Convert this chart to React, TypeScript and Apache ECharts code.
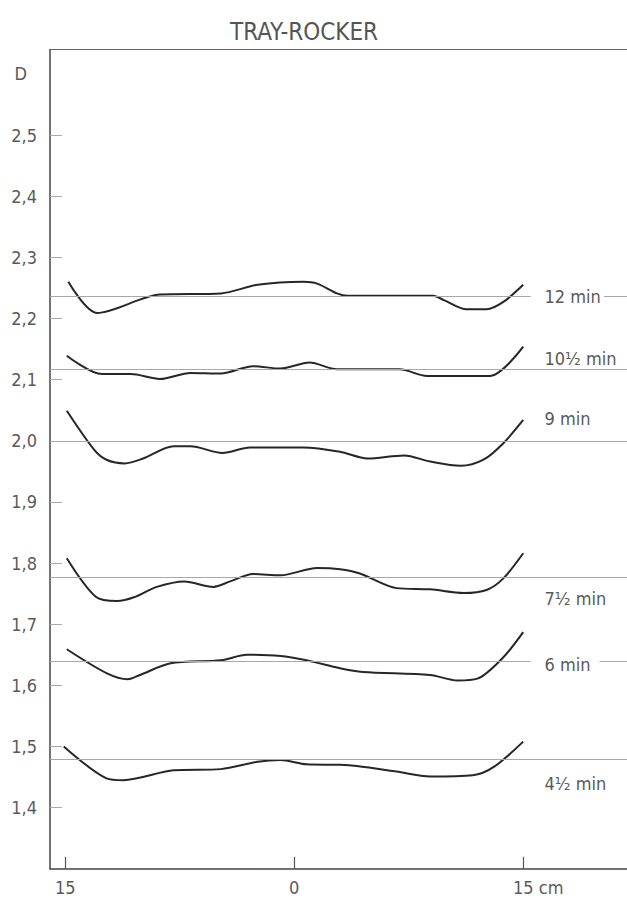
import React, { useEffect, useRef } from 'react';
import * as echarts from 'echarts';

const TITLE = 'TRAY-ROCKER';
const Y_AXIS_LABEL = 'D';
const X_UNIT = 'cm';
const xTickValues = [-15, 0, 15];
const yTickValues = [1.4, 1.5, 1.6, 1.7, 1.8, 1.9, 2.0, 2.1, 2.2, 2.3, 2.4, 2.5];
const yAxisLabelValue = 2.6;

const seriesNames = ['12 min', '10½ min', '9 min', '7½ min', '6 min', '4½ min'];
const refLevels = [2.236, 2.117, 2.0, 1.777, 1.639, 1.479];

const x12 = [-14.8, -12.9, -8.8, -4.8, -2.4, 0.6, 1.5, 2.8, 3.5, 9.1, 9.8, 11.3, 12.6, 13.7, 15.0];
const y12 = [2.26, 2.209, 2.239, 2.241, 2.255, 2.26, 2.257, 2.241, 2.237, 2.237, 2.23, 2.215, 2.215, 2.227, 2.255];

const x105 = [-14.9, -12.6, -10.7, -8.8, -6.8, -4.8, -2.7, -0.9, 1.0, 2.8, 6.9, 8.7, 12.8, 15.0];
const y105 = [2.139, 2.109, 2.109, 2.101, 2.111, 2.11, 2.122, 2.118, 2.128, 2.117, 2.117, 2.106, 2.106, 2.154];

const x9 = [-14.9, -13.1, -12.3, -11.1, -9.9, -7.9, -6.8, -4.7, -2.9, 0.6, 3.0, 4.8, 7.2, 8.9, 10.9, 12.4, 13.7, 15.0];
const y9 = [2.049, 1.985, 1.969, 1.963, 1.971, 1.991, 1.991, 1.98, 1.989, 1.989, 1.982, 1.971, 1.976, 1.966, 1.959, 1.969, 1.996, 2.034];

const x75 = [-14.9, -13.0, -11.6, -10.5, -9.0, -7.2, -5.3, -4.2, -2.7, -0.9, 1.5, 3.0, 4.3, 6.7, 8.9, 11.1, 12.6, 13.7, 15.0];
const y75 = [1.808, 1.745, 1.738, 1.744, 1.761, 1.77, 1.761, 1.77, 1.782, 1.78, 1.792, 1.79, 1.783, 1.759, 1.757, 1.751, 1.756, 1.775, 1.816];

const x6 = [-14.9, -12.3, -10.9, -10.1, -8.1, -4.8, -3.1, -0.9, 0.8, 3.0, 4.5, 8.9, 10.7, 12.0, 13.7, 15.0];
const y6 = [1.659, 1.62, 1.61, 1.617, 1.636, 1.641, 1.65, 1.648, 1.641, 1.628, 1.622, 1.617, 1.608, 1.611, 1.646, 1.687];

const x45 = [-15.1, -12.3, -11.2, -7.9, -4.8, -2.4, -0.9, 0.8, 3.0, 4.1, 6.7, 8.9, 11.7, 13.1, 15.0];
const y45 = [1.5, 1.448, 1.445, 1.461, 1.463, 1.475, 1.478, 1.471, 1.47, 1.468, 1.459, 1.451, 1.453, 1.467, 1.508];

const curvesX = [x12, x105, x9, x75, x6, x45];
const curvesY = [y12, y105, y9, y75, y6, y45];

// presentation settings (not data)
const X_MIN = -16;
const X_MAX = 21.8;
const Y_MIN = 1.3;
const Y_MAX = 2.64;
const LABEL_X = 16.2;
const GAP_FROM = 15.5;
const GAP_TO = 20.0;
const labelPlacement = [
  { dy: 0, gap: true },
  { dy: -11, gap: false },
  { dy: -22, gap: false },
  { dy: 21, gap: false },
  { dy: 3, gap: true },
  { dy: 24, gap: false },
];

const FONT = "'Liberation Sans Narrow', 'DejaVu Sans Condensed', 'Liberation Sans', sans-serif";
const TEXT_COLOR = '#5a5a5a';

export default function App() {
  const ref = useRef<HTMLDivElement>(null);

  useEffect(() => {
    if (!ref.current) return;
    const chart = echarts.init(ref.current, undefined, { renderer: 'svg' });

    const series = seriesNames.map((name, i) => {
      const level = refLevels[i];
      const place = labelPlacement[i];
      const segs = place.gap
        ? [
            [{ coord: [X_MIN, level] }, { coord: [GAP_FROM, level] }],
            [{ coord: [GAP_TO, level] }, { coord: [X_MAX, level] }],
          ]
        : [[{ coord: [X_MIN, level] }, { coord: [X_MAX, level] }]];
      return {
        name,
        type: 'line',
        smooth: 0.3,
        showSymbol: false,
        symbol: 'none',
        data: curvesX[i].map((x, j) => [x, curvesY[i][j]]),
        lineStyle: { color: '#262626', width: 2 },
        itemStyle: { color: '#262626' },
        markLine: {
          silent: true,
          symbol: 'none',
          label: { show: false },
          lineStyle: { color: '#a8a8a8', width: 1, type: 'solid' },
          data: segs,
        },
        markPoint: {
          silent: true,
          symbol: 'circle',
          symbolSize: 0,
          data: [{ coord: [LABEL_X, level], name }],
          label: {
            show: true,
            position: 'right',
            distance: 0,
            offset: [0, place.dy],
            formatter: '{b}',
            color: TEXT_COLOR,
            fontSize: 18,
            fontFamily: FONT,
            backgroundColor: place.gap ? '#ffffff' : 'transparent',
            padding: [0, 3],
          },
        },
      };
    });

    chart.setOption({
      animation: false,
      backgroundColor: '#ffffff',
      title: {
        text: TITLE,
        left: 225,
        top: 15,
        textStyle: { fontFamily: FONT, fontSize: 24, fontWeight: 'normal', color: '#555' },
      },
      grid: { left: 50, right: 0, top: 49.4, bottom: 29.2, containLabel: false },
      xAxis: [
        {
          type: 'value',
          min: X_MIN,
          max: X_MAX,
          position: 'bottom',
          axisLine: { show: true, onZero: false, lineStyle: { color: '#444', width: 1.5 } },
          axisTick: { show: true, inside: true, length: 12, customValues: xTickValues, lineStyle: { color: '#555', width: 1.2 } },
          axisLabel: {
            customValues: xTickValues,
            margin: 10,
            color: TEXT_COLOR,
            fontSize: 18,
            fontFamily: FONT,
            formatter: (v: number) =>
              v === 15 ? `{u|${Math.abs(v)} ${X_UNIT}}` : String(Math.abs(v)),
            rich: {
              u: { padding: [0, 0, 0, 30], color: TEXT_COLOR, fontSize: 18, fontFamily: FONT },
            },
          },
          splitLine: { show: false },
        },
        {
          type: 'value',
          min: X_MIN,
          max: X_MAX,
          position: 'top',
          axisLine: { show: true, onZero: false, lineStyle: { color: '#666', width: 1.2 } },
          axisTick: { show: false },
          axisLabel: { show: false },
          splitLine: { show: false },
        },
      ],
      yAxis: {
        type: 'value',
        min: Y_MIN,
        max: Y_MAX,
        axisLine: { show: true, onZero: false, lineStyle: { color: '#444', width: 1.5 } },
        axisTick: { show: true, inside: true, length: 12, customValues: yTickValues, lineStyle: { color: '#aaa', width: 1 } },
        axisLabel: {
          customValues: [...yTickValues, yAxisLabelValue],
          margin: 13,
          color: TEXT_COLOR,
          fontSize: 18,
          fontFamily: FONT,
          formatter: (v: number) =>
            Math.abs(v - yAxisLabelValue) < 1e-6 ? `{d|${Y_AXIS_LABEL}}` : v.toFixed(1).replace('.', ','),
          rich: {
            d: { padding: [0, 10, 0, 0], color: TEXT_COLOR, fontSize: 18, fontFamily: FONT },
          },
        },
        splitLine: { show: false },
      },
      series,
    });

    return () => chart.dispose();
  }, []);

  return (
    <div
      ref={ref}
      style={{ position: 'absolute', left: 0, top: 0, width: 627, height: 898 }}
    />
  );
}
